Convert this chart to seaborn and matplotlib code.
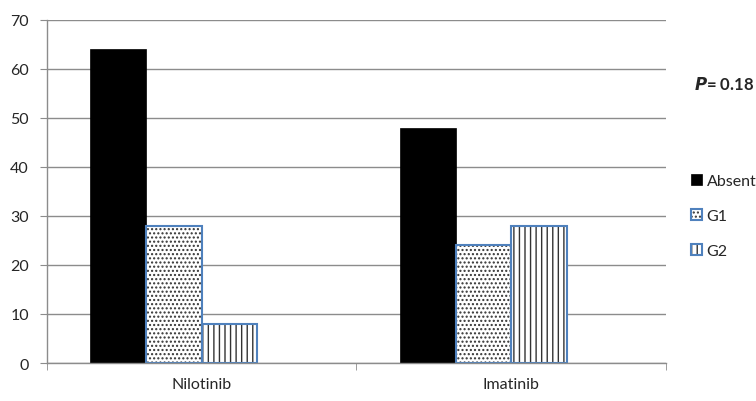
import numpy as np
import pandas as pd
import matplotlib
matplotlib.use("Agg")
import matplotlib.pyplot as plt
import seaborn as sns
from matplotlib.patches import Patch, Rectangle
from matplotlib.legend_handler import HandlerTuple

# data
drugs = ['Nilotinib', 'Imatinib']
groups = ['Absent', 'G1', 'G2']
absent = [64, 48]
g1 = [28, 24]
g2 = [8, 28]

sns.set_style('white')
plt.rcParams['font.family'] = ['Lato', 'DejaVu Sans']

df = pd.DataFrame({
    'drug': drugs * 4,
    'group': ['Absent'] * 2 + ['G1'] * 2 + ['G2'] * 2 + ['pad'] * 2,
    'value': absent + g1 + g2 + [0, 0],
})

blue = '#4f81bd'
face = {'Absent': 'black', 'G1': 'white', 'G2': 'white', 'pad': 'none'}
edge = {'Absent': 'black', 'G1': blue, 'G2': blue, 'pad': 'none'}
hatch = {'Absent': '', 'G1': '....', 'G2': '|||', 'pad': ''}

fig = plt.figure(figsize=(7.56, 4.02), dpi=100)
ax = fig.add_axes([0.062, 0.0945, 0.819, 0.8535])
sns.barplot(data=df, x='drug', y='value', hue='group', order=drugs,
            hue_order=groups + ['pad'], width=0.72, gap=0, ax=ax,
            legend=False, err_kws={'linewidth': 0})

for cont, g in zip(ax.containers, groups + ['pad']):
    for p in cont:
        p.set_facecolor(face[g])
        if g in ('G1', 'G2'):
            # hatch follows the edge colour, so draw it black and add a blue outline on top
            p.set_edgecolor('#333333')
            p.set_linewidth(0)
            p.set_hatch(hatch[g])
            ax.add_patch(Rectangle(p.get_xy(), p.get_width(), p.get_height(),
                                   facecolor='none', edgecolor=blue,
                                   linewidth=1.5, zorder=p.get_zorder() + 0.1))
        else:
            p.set_edgecolor(edge[g])
            p.set_linewidth(0.5)

ax.set_ylim(0, 70)
ax.set_xlim(-0.5, 1.5)
ax.set_yticks(range(0, 71, 10))
ax.yaxis.grid(True, color='#8c8c8c', linewidth=1)
ax.set_axisbelow(True)
for s in ['top', 'right']:
    ax.spines[s].set_visible(False)
for s in ['left', 'bottom']:
    ax.spines[s].set_color('#8c8c8c')
    ax.spines[s].set_linewidth(1)
ax.tick_params(axis='y', direction='out', length=5, color='#8c8c8c',
               labelsize=11.5, pad=8, left=True)
ax.tick_params(axis='x', length=0, labelsize=11.5, pad=10)
ax.set_xticks([-0.5, 0.5, 1.5], minor=True)
ax.tick_params(axis='x', which='minor', direction='out', length=5,
               color='#8c8c8c', bottom=True)
ax.set_xlabel('')
ax.set_ylabel('')

handles = []
for g in groups:
    if g == 'Absent':
        handles.append(Patch(facecolor='black', edgecolor='black', linewidth=0.5))
    else:
        handles.append((Patch(facecolor='white', edgecolor='#333333', hatch=hatch[g],
                              linewidth=0),
                        Patch(facecolor='none', edgecolor=blue, linewidth=1.5)))
fig.legend(handles=handles, labels=groups, loc='upper left',
           bbox_to_anchor=(0.905, 0.58), frameon=False, fontsize=11.5,
           handlelength=0.7, handleheight=0.7, handletextpad=0.3,
           labelspacing=1.3, borderaxespad=0,
           handler_map={tuple: HandlerTuple(ndivide=1, pad=0)})

fig.text(0.918, 0.79, r'$\bfit{P}$' + '= 0.18', fontsize=12,
         fontweight='bold', va='center')

fig.savefig('out.png', dpi=100)
